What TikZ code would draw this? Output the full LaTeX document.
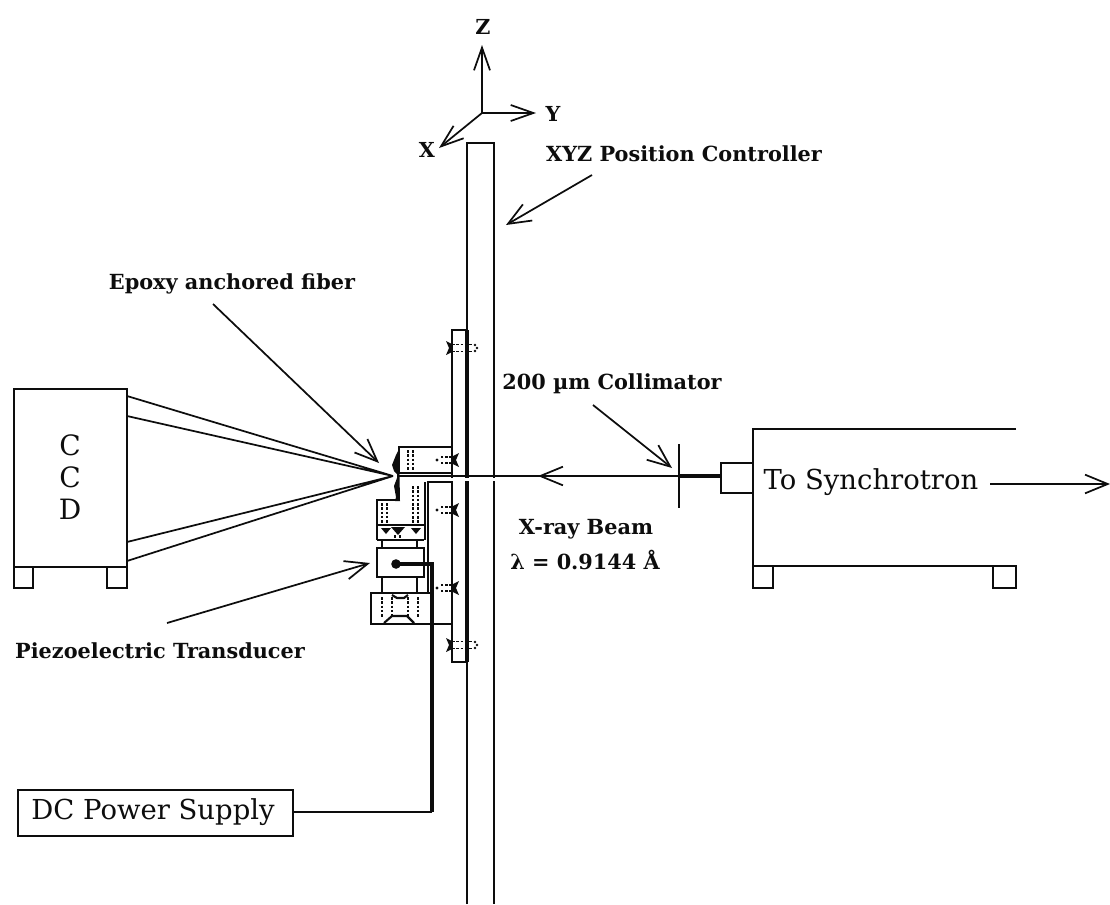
\documentclass[tikz,border=0pt]{standalone}
\usepackage{fontspec}
\setmainfont{DejaVu Serif}
\usetikzlibrary{arrows.meta,fit}
\definecolor{ink}{gray}{0.05}
\tikzset{
  part/.style={draw=ink,line width=1.3pt,inner sep=0pt,fill=none},
  thick part/.style={part,line width=1.9pt},
  leader/.style={draw=ink,line width=1.3pt,-{Straight Barb[length=17pt,width=14pt,line width=1.3pt]}},
  axis/.style={draw=ink,line width=1.3pt,-{Straight Barb[length=17pt,width=12pt,line width=1.3pt]}},
  wire/.style={draw=ink,line width=2.7pt},
  dots/.style={draw=ink,line width=1.7pt,dash pattern=on 2pt off 1.2pt},
  smalllabel/.style={inner sep=0pt,text=ink,font=\fontsize{15.6}{18}\selectfont\bfseries},
  biglabel/.style={inner sep=0pt,text=ink,font=\fontsize{20.6}{24}\selectfont},
  axislabel/.style={inner sep=0pt,text=ink,font=\fontsize{15.5}{18}\selectfont\bfseries},
}
\newcommand{\pbox}[6][part]{\node[#1,fit={(#3,#4)(#5,#6)}] (#2) {};}
% screw with its head on the left of the plate
\newcommand{\screwL}[2]{%
  \fill[ink] (#1-6,#2-7) -- (#1,#2-4) -- (#1,#2+4) -- (#1-6,#2+7) -- (#1-3,#2) -- cycle;
  \draw[dots,line width=1.4pt] (#1,#2-3.5) -- (#1+20,#2-3.5);
  \draw[dots,line width=1.4pt] (#1,#2+3.5) -- (#1+20,#2+3.5);
  \fill[ink] (#1+23,#2-3) circle (1pt) (#1+25,#2) circle (1pt) (#1+23,#2+3) circle (1pt);
}
% screw with its head on the right of the plate
\newcommand{\screwR}[2]{%
  \fill[ink] (#1+7,#2-7) -- (#1+1,#2-4) -- (#1+1,#2+4) -- (#1+7,#2+7) -- (#1+4,#2) -- cycle;
  \fill[ink] (#1,#2-4) rectangle (#1+2,#2+4);
  \draw[dots,line width=1.4pt] (#1,#2-3) -- (#1-12,#2-3);
  \draw[dots,line width=1.4pt] (#1,#2+3) -- (#1-12,#2+3);
  \fill[ink] (#1-15,#2) circle (1.2pt);
}
\begin{document}
\begin{tikzpicture}[x=0.75pt,y=-0.75pt]
\useasboundingbox (0,0) rectangle (1110,904);

% --- axes
\coordinate (o) at (482,113);
\node[axislabel] (zl) at (483,27) {Z};
\node[axislabel] (yl) at (553,114) {Y};
\node[axislabel] (xl) at (427,150) {X};
\coordinate (zt) at (482,45);
\coordinate (yt) at (536,113);
\coordinate (xt) at (439,148);
\draw[axis] (o) -- (zt);
\draw[axis] (o) -- (yt);
\draw[axis] (o) -- (xt);

% --- rail and plate
\coordinate (railA) at (467,904);
\coordinate (railB) at (467,143);
\coordinate (railC) at (494,143);
\coordinate (railD) at (494,904);
\draw[part] (railA) -- (railB) -- (railC) -- (railD);
\draw[draw=ink,line width=2.4pt] (467,330) -- (467,662);
\draw[draw=ink,line width=1.6pt] (467,330) -- (452,330) -- (452,662) -- (467,662);

% --- CCD
\pbox{ccd}{14}{389}{127}{567}
\pbox{ccdfl}{14}{567}{33}{588}
\pbox{ccdfr}{107}{567}{127}{588}
\node[biglabel,font=\fontsize{21}{24}\selectfont] (c1) at (70,445) {C};
\node[biglabel,font=\fontsize{21}{24}\selectfont] (c2) at (70,477) {C};
\node[biglabel,font=\fontsize{21}{24}\selectfont] (c3) at (70,509) {D};

% --- diffraction rays
\coordinate (tip) at (393,476);
\coordinate (r1) at (127,396);
\coordinate (r2) at (127,416);
\coordinate (r3) at (127,542);
\coordinate (r4) at (127,561);
\draw[part] (r1) -- (tip) -- (r2);
\draw[part] (r3) -- (tip) -- (r4);

% --- sample stack
\pbox[thick part]{upper}{399}{447}{452}{473}
\draw[thick part] (377,540) -- (377,500) -- (400,500);
\draw[draw=ink,line width=1.9pt] (377,540) -- (424,540);
\draw[part] (377,525) -- (426,525);
\draw[thick part] (427,482) -- (452,482);
\draw[part] (425,482) -- (425,540);
\draw[part] (428,482) -- (428,593);
\pbox[thick part]{piezo}{377}{548}{424}{577}
\draw[part] (382,540) -- (382,548) (417,540) -- (417,548);
\draw[part] (382,577) -- (382,593) (417,577) -- (417,593);
\pbox[thick part]{lower}{371}{593}{432}{624}
\draw[thick part] (432,624) -- (452,624);

% epoxy
\fill[ink] (399,449) -- (396,455) -- (392,465) -- (394,471) -- (397,474) -- (397,478) -- (394,486) -- (396,497) -- (395,501) -- (400,501) -- cycle;

% dots in stack
\draw[dots] (408,450) -- (408,471) (413,450) -- (413,471);
\draw[dots] (382,503) -- (382,525) (387,503) -- (387,525);
\draw[dots] (413,486) -- (413,525) (418,486) -- (418,525);
\fill[ink] (381,528) -- (391,528) -- (386,534) -- cycle;
\fill[ink] (391,527) -- (405,527) -- (398,535) -- cycle;
\fill[ink] (411,528) -- (421,528) -- (416,534) -- cycle;
\draw[dots] (395,535) -- (395,540) (400,535) -- (400,540);
\draw[dots] (382,597) -- (382,617) (392,597) -- (392,617) (408,597) -- (408,617) (418,597) -- (418,617);
\draw[part,line width=1.6pt] (384,623) -- (392,616) -- (407,616) -- (414,623);
\draw[part,line width=1.6pt] (392,595) -- (397,598) -- (404,598) -- (408,595);

% screws
\screwL{452}{348}
\screwL{452}{645}
\screwR{452}{460}
\screwR{452}{510}
\screwR{452}{588}

% --- gap and beam
\fill[white] (401,478) rectangle (497,480.5);
\node[inner sep=0pt,minimum size=0pt] (colc) at (679,476) {};
\coordinate (beamend) at (398,476);
\coordinate (beamhead) at (538,476);
\draw[draw=ink,line width=1.7pt] (colc) -- (beamend);
\draw[leader] (colc) -- (beamhead);
\coordinate (colt) at (679,444);
\coordinate (colb) at (679,508);
\draw[part] (colt) -- (colb);

% --- synchrotron side
\pbox{nozzle}{721}{463}{753}{493}
\draw[draw=ink,line width=3.4pt] (colc) -- (colc -| nozzle.west);
\coordinate (syncTR) at (1016,429);
\coordinate (syncTL) at (753,429);
\coordinate (syncBL) at (753,566);
\coordinate (syncBR) at (1016,566);
\draw[part] (syncTR) -- (syncTL) -- (syncBL) -- (syncBR);
\pbox{sfl}{753}{566}{773}{588}
\pbox{sfr}{993}{566}{1016}{588}
\node[biglabel] (sync) at (871,482) {To Synchrotron};
\coordinate (syncs) at (990,484);
\coordinate (syncend) at (1110,484);
\draw[leader] (syncs) -- (syncend);

% --- power supply
\node[part,fit={(18,790)(293,836)}] (dc) {};
\node[biglabel] (dct) at (153,812) {DC Power Supply};
\fill[ink] (396,564) circle (3.6pt);
\coordinate (w1) at (396,564);
\coordinate (w2) at (432,564);
\coordinate (w3) at (432,812);
\draw[wire] (w1) -- (w2) -- (w3);
\draw[draw=ink,line width=2pt] (w3) -- (dc.east |- w3);

% --- labels and leader lines
\node[smalllabel] (xyz) at (684,154) {XYZ Position Controller};
\coordinate (xyzs) at (592,175);
\coordinate (xyze) at (506,225);
\draw[leader] (xyzs) -- (xyze);
\node[smalllabel] (epoxy) at (232,284) {Epoxy anchored fiber};
\coordinate (eps) at (213,304);
\coordinate (epe) at (379,463);
\draw[leader] (eps) -- (epe);
\node[smalllabel] (coll) at (612,384) {200 µm Collimator};
\coordinate (cos) at (593,405);
\coordinate (coe) at (672,468);
\draw[leader] (cos) -- (coe);
\node[smalllabel] (piezol) at (160,651) {Piezoelectric Transducer};
\coordinate (pis) at (167,623);
\coordinate (pie) at (370,563);
\draw[leader] (pis) -- (pie);
\node[smalllabel] (beam) at (586,529) {X-ray Beam};
\node[smalllabel] (wave) at (585,560) {λ = 0.9144 Å};
\end{tikzpicture}
\end{document}
